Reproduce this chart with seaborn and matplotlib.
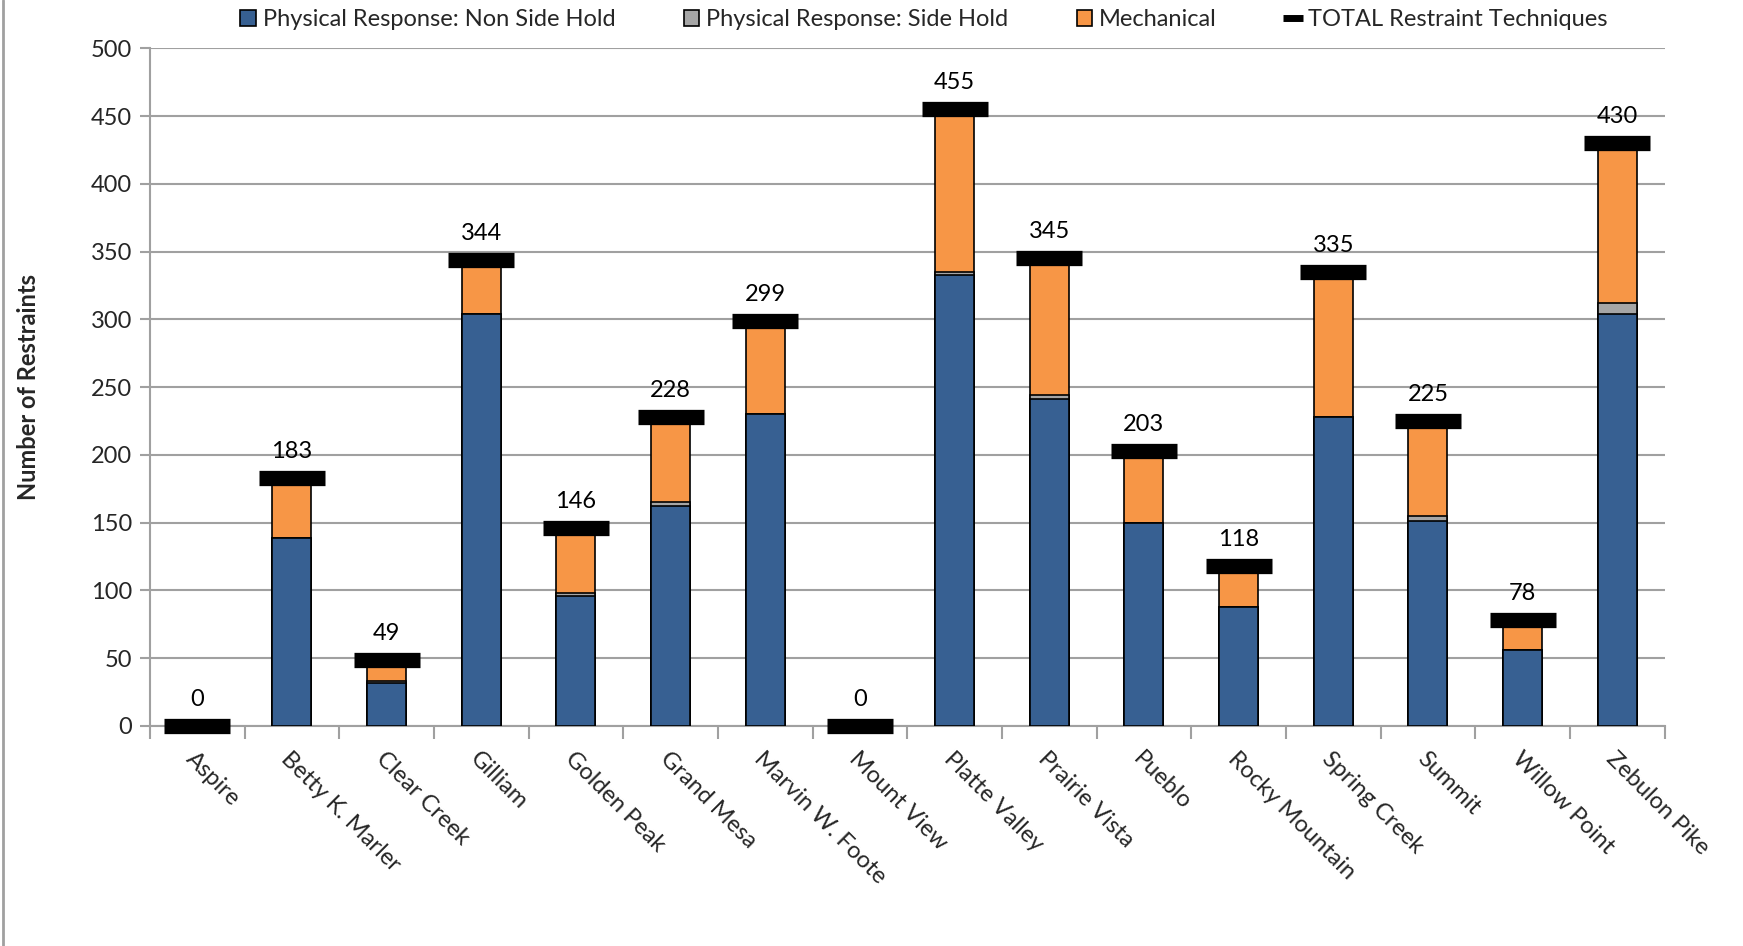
import matplotlib
matplotlib.use("Agg")
import matplotlib.pyplot as plt
import seaborn as sns
import numpy as np
import pandas as pd
from matplotlib.lines import Line2D
from matplotlib.patches import Patch

schools = ["Aspire", "Betty K. Marler", "Clear Creek", "Gilliam", "Golden Peak",
           "Grand Mesa", "Marvin W. Foote", "Mount View", "Platte Valley",
           "Prairie Vista", "Pueblo", "Rocky Mountain", "Spring Creek", "Summit",
           "Willow Point", "Zebulon Pike"]
non_side_hold = [0, 139, 32, 304, 96, 162, 230, 0, 333, 241, 150, 88, 228, 151, 56, 304]
side_hold = [0, 0, 1, 0, 2, 3, 0, 0, 2, 3, 0, 0, 0, 4, 0, 8]
mechanical = [0, 44, 16, 40, 48, 63, 69, 0, 120, 101, 53, 30, 107, 70, 22, 118]
totals = [0, 183, 49, 344, 146, 228, 299, 0, 455, 345, 203, 118, 335, 225, 78, 430]

yticks = list(range(0, 501, 50))

C_BLUE = "#376092"
C_GRAY = "#A6A6A6"
C_ORANGE = "#F79646"
GRID = "#A0A0A0"
FONT = ["Lato", "DejaVu Sans"]
FS = 17

sns.set_theme(style="white")
plt.rcParams["font.family"] = FONT

df = pd.DataFrame({"school": schools,
                   "blue": non_side_hold,
                   "gray": side_hold,
                   "orange": mechanical,
                   "total": totals})
df["lvl1"] = df["blue"]
df["lvl2"] = df["blue"] + df["gray"]
df["lvl3"] = df["lvl2"] + df["orange"]

fig = plt.figure(figsize=(17.43, 9.46), dpi=100)
ax = fig.add_axes([0.086, 0.2326, 0.869, 0.7164])

bw = 0.41
for col, c in [("lvl3", C_ORANGE), ("lvl2", C_GRAY), ("lvl1", C_BLUE)]:
    sns.barplot(data=df, x="school", y=col, color=c, width=bw, edgecolor="black",
                linewidth=1.2, saturation=1, ax=ax, zorder=3)

ax.plot(np.arange(len(schools)), df["total"], ls="none", marker="_", ms=48, mew=11,
        color="black", zorder=5, clip_on=False)

for i, t in enumerate(totals):
    ax.annotate(str(t), (i, t), xytext=(0, 19), textcoords="offset points",
                ha="center", va="center", fontsize=FS, color="black", zorder=6)

ax.set_xlim(-0.5, len(schools) - 0.5)
ax.set_ylim(0, 500)
ax.set_yticks(yticks)
ax.set_yticklabels([str(v) for v in yticks], fontsize=FS)
ax.yaxis.grid(True, color=GRID, linewidth=1.5, zorder=0)
ax.set_axisbelow(True)
ax.set_xlabel("")
ax.set_ylabel("Number of Restraints", fontsize=FS, fontweight="bold", labelpad=36)

# category boundary ticks (major) and labeled centers (minor)
ax.set_xticks(np.arange(-0.5, len(schools), 1.0))
ax.set_xticklabels([])
ax.set_xticks(np.arange(len(schools)), minor=True)
ax.set_xticklabels(schools, minor=True, rotation=-45, ha="left",
                   rotation_mode="anchor", fontsize=FS)
ax.tick_params(axis="x", which="major", length=9, width=1.5, color=GRID, direction="out")
ax.tick_params(axis="x", which="minor", length=0, pad=16)
ax.tick_params(axis="y", length=7, width=1.5, color=GRID, direction="out", pad=6)
ax.tick_params(axis="y", left=True)
ax.tick_params(axis="x", bottom=True)

for s in ["top", "right"]:
    ax.spines[s].set_visible(False)
for s in ["left", "bottom"]:
    ax.spines[s].set_color(GRID)
    ax.spines[s].set_linewidth(1.5)

handles = [Patch(facecolor=C_BLUE, edgecolor="black", linewidth=1.2),
           Patch(facecolor=C_GRAY, edgecolor="black", linewidth=1.2),
           Patch(facecolor=C_ORANGE, edgecolor="black", linewidth=1.2),
           Line2D([], [], color="black", marker="_", ms=14, mew=5, ls="none")]
labels = ["Physical Response: Non Side Hold", "Physical Response: Side Hold",
          "Mechanical", "TOTAL Restraint Techniques"]
fig.legend(handles, labels, loc="center", bbox_to_anchor=(0.53, 0.979), ncol=4,
           frameon=False, fontsize=FS, handlelength=0.65, handleheight=0.7,
           handletextpad=0.3, columnspacing=2.9)

fig.add_artist(Line2D([0.002, 0.002], [0.0, 1.0], color=GRID, linewidth=2,
                      transform=fig.transFigure))

fig.savefig("out.png", dpi=100)
